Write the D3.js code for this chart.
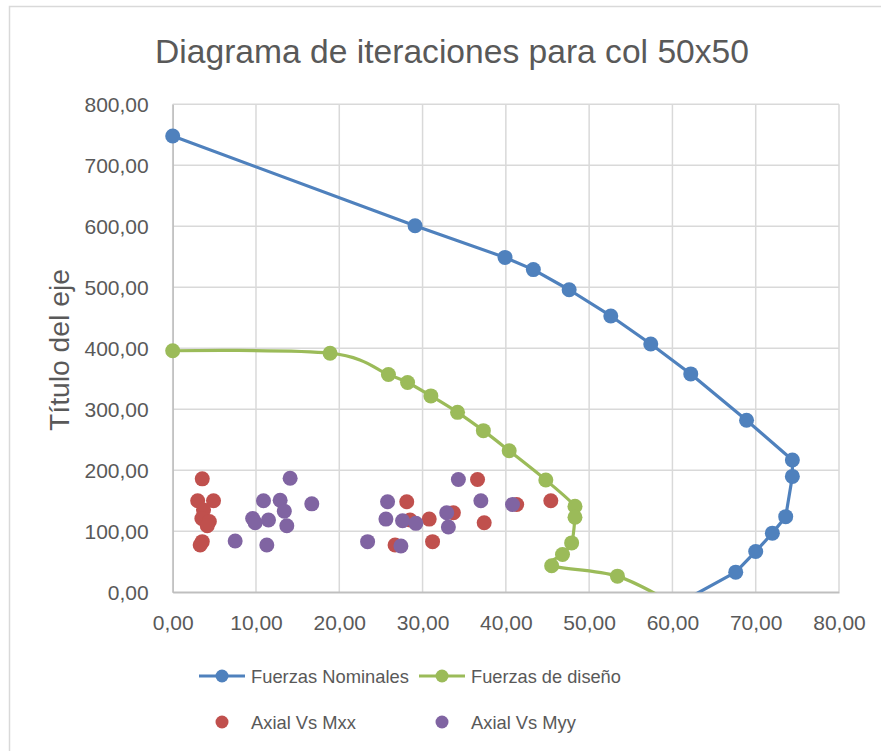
<!DOCTYPE html>
<html>
<head>
<meta charset="utf-8">
<script src="https://cdnjs.cloudflare.com/ajax/libs/d3/7.8.5/d3.min.js"></script>
<style>
  html, body { margin: 0; padding: 0; background: #ffffff; }
  svg { display: block; }
  text { font-family: "Liberation Sans", Arial, sans-serif; fill: #595959; }
</style>
</head>
<body>
<svg id="chart" width="881" height="751"></svg>
<script>
// ---------- DATA ----------
const chartTitle = "Diagrama de iteraciones para col 50x50";
const yAxisTitle = "Título del eje";
const xTickValues = [0, 10, 20, 30, 40, 50, 60, 70, 80];
const yTickValues = [0, 100, 200, 300, 400, 500, 600, 700, 800];

const nominalM = [0, 29.1, 39.9, 43.3, 47.6, 52.6, 57.4, 62.2, 68.9, 74.4, 74.4, 73.6, 72.0, 70.0, 67.6, 58.5];
const nominalP = [748, 601, 549, 529, 496, 453, 407, 358, 282, 217, 190, 124, 97, 67, 33, -35];

const designM = [0, 18.9, 25.9, 28.2, 31.0, 34.2, 37.3, 40.4, 44.8, 48.3, 48.3, 47.9, 46.8, 45.5, 53.4, 60.5];
const designP = [396, 392, 357, 344, 322, 295, 265, 232, 184, 141, 123, 81, 62, 43.5, 26.5, -22];

const mxxM = [3.55, 3.0, 4.9, 3.7, 3.5, 4.4, 4.15, 3.55, 3.3, 28.1, 28.5, 30.8, 31.2, 26.7, 33.7, 36.6, 37.4, 41.3, 45.4];
const mxxP = [186, 150, 150, 135, 121, 116, 109, 83, 77.5, 148.5, 118.5, 120, 83, 77.5, 130.5, 185, 114, 144, 150];

const myyM = [14.1, 10.9, 12.9, 16.7, 13.4, 9.6, 11.5, 9.9, 13.7, 7.5, 11.3, 25.8, 25.6, 27.6, 29.2, 32.9, 33.1, 23.4, 27.4, 34.3, 37.0, 40.8];
const myyP = [187, 150, 151, 145, 133, 121, 118.5, 114, 109, 84, 77.5, 148.5, 120, 117.4, 113, 130.5, 107, 83, 76, 185, 150, 144];

const seriesNames = ["Fuerzas Nominales", "Fuerzas de diseño", "Axial Vs Mxx", "Axial Vs Myy"];
const seriesColors = ["#4F81BD", "#9BBB59", "#C0504D", "#8064A2"];

// ---------- LAYOUT ----------
const svg = d3.select("#chart");
const plot = { left: 172.7, right: 839, top: 104.3, bottom: 592.3 };

const x = d3.scaleLinear().domain([0, 80]).range([plot.left, plot.right]);
const y = d3.scaleLinear().domain([0, 800]).range([plot.bottom, plot.top]);
const fmt = v => d3.format(".2f")(v).replace(".", ",");

// chart frame
svg.append("rect").attr("x", 0).attr("y", 0).attr("width", 881).attr("height", 751).attr("fill", "#fff");
svg.append("rect").attr("x", 9.5).attr("y", 6.5).attr("width", 1000).attr("height", 1000)
  .attr("fill", "none").attr("stroke", "#d9d9d9").attr("stroke-width", 1.5);

function fitText(sel, width) {
  const node = sel.node();
  sel.style("font-size", "100px");
  const w = node.getComputedTextLength();
  sel.style("font-size", (100 * width / w) + "px");
  return sel;
}

// title
fitText(svg.append("text").attr("x", 452).attr("y", 63).attr("text-anchor", "middle").text(chartTitle), 594);

// gridlines
const grid = svg.append("g");
grid.selectAll(".vg").data(xTickValues).join("line")
  .attr("x1", d => x(d)).attr("x2", d => x(d))
  .attr("y1", plot.top).attr("y2", plot.bottom)
  .attr("stroke", "#d9d9d9").attr("stroke-width", 1.5);
grid.selectAll(".hg").data(yTickValues).join("line")
  .attr("x1", plot.left).attr("x2", plot.right)
  .attr("y1", d => y(d)).attr("y2", d => y(d))
  .attr("stroke", d => d === 0 ? "#bfbfbf" : "#d9d9d9").attr("stroke-width", 1.5);

// axes with d3 axis generators (labels only)
const yAxis = svg.append("g").attr("transform", `translate(${plot.left},0)`)
  .call(d3.axisLeft(y).tickValues(yTickValues).tickFormat(fmt).tickSize(0).tickPadding(24));
yAxis.select(".domain").attr("stroke", "#bfbfbf").attr("stroke-width", 1.5);
yAxis.selectAll("text").attr("font-family", "Liberation Sans, Arial, sans-serif")
  .style("font-size", "21px").attr("fill", "#595959").attr("dy", "0.36em");

const xAxis = svg.append("g").attr("transform", `translate(0,${plot.bottom})`)
  .call(d3.axisBottom(x).tickValues(xTickValues).tickFormat(fmt).tickSize(0).tickPadding(23));
xAxis.select(".domain").attr("stroke", "#bfbfbf").attr("stroke-width", 1.5);
xAxis.selectAll("text").attr("font-family", "Liberation Sans, Arial, sans-serif")
  .style("font-size", "21px").attr("fill", "#595959");

// y axis title
fitText(svg.append("text").attr("transform", "translate(69,350) rotate(-90)")
  .attr("text-anchor", "middle").text(yAxisTitle), 162);

// clip
svg.append("clipPath").attr("id", "clip").append("rect")
  .attr("x", plot.left - 10).attr("y", plot.top - 10)
  .attr("width", plot.right - plot.left + 20).attr("height", plot.bottom - plot.top + 10);
const g = svg.append("g").attr("clip-path", "url(#clip)");

const nominal = nominalM.map((m, i) => ({ m, p: nominalP[i] }));
const design = designM.map((m, i) => ({ m, p: designP[i] }));
const mxx = mxxM.map((m, i) => ({ m, p: mxxP[i] }));
const myy = myyM.map((m, i) => ({ m, p: myyP[i] }));

const lineStraight = d3.line().x(d => x(d.m)).y(d => y(d.p));
const lineSmooth = d3.line().x(d => x(d.m)).y(d => y(d.p)).curve(d3.curveCardinal.tension(0));

g.append("path").datum(nominal).attr("d", lineStraight)
  .attr("fill", "none").attr("stroke", seriesColors[0]).attr("stroke-width", 3.2).attr("stroke-linejoin", "round");
g.selectAll(".nm").data(nominal.filter(d => d.p >= 0)).join("circle")
  .attr("cx", d => x(d.m)).attr("cy", d => y(d.p)).attr("r", 7.5).attr("fill", seriesColors[0]);

g.append("path").datum(design).attr("d", lineSmooth)
  .attr("fill", "none").attr("stroke", seriesColors[1]).attr("stroke-width", 3.2).attr("stroke-linejoin", "round");
g.selectAll(".dm").data(design.filter(d => d.p >= 0)).join("circle")
  .attr("cx", d => x(d.m)).attr("cy", d => y(d.p)).attr("r", 7.5).attr("fill", seriesColors[1]);

g.selectAll(".mx").data(mxx).join("circle")
  .attr("cx", d => x(d.m)).attr("cy", d => y(d.p)).attr("r", 7.5).attr("fill", seriesColors[2]);
g.selectAll(".my").data(myy).join("circle")
  .attr("cx", d => x(d.m)).attr("cy", d => y(d.p)).attr("r", 7.5).attr("fill", seriesColors[3]);

// ---------- LEGEND ----------
const legendItems = [
  { name: seriesNames[0], color: seriesColors[0], line: true, lx: 199, ly: 676, tw: 158 },
  { name: seriesNames[1], color: seriesColors[1], line: true, lx: 419, ly: 676, tw: 150 },
  { name: seriesNames[2], color: seriesColors[2], line: false, lx: 199, ly: 722, tw: 105 },
  { name: seriesNames[3], color: seriesColors[3], line: false, lx: 419, ly: 722, tw: 105 }
];
const lg = svg.append("g");
legendItems.forEach(it => {
  if (it.line) {
    lg.append("line").attr("x1", it.lx).attr("x2", it.lx + 46).attr("y1", it.ly).attr("y2", it.ly)
      .attr("stroke", it.color).attr("stroke-width", 3.2);
  }
  lg.append("circle").attr("cx", it.lx + 23).attr("cy", it.ly).attr("r", 6.5).attr("fill", it.color);
  const t = lg.append("text").attr("x", it.lx + 52).attr("y", it.ly).attr("dy", "0.36em").text(it.name);
  fitText(t, it.tw);
});
</script>
</body>
</html>
